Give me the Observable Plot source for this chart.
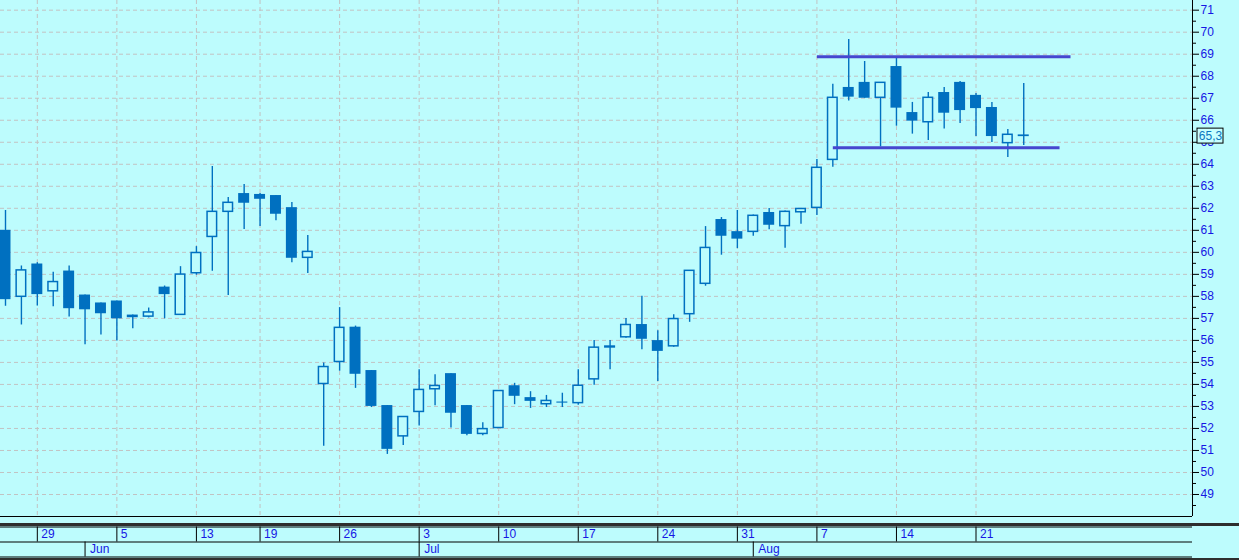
<!DOCTYPE html>
<html><head><meta charset="utf-8">
<script src="https://cdn.jsdelivr.net/npm/d3@7"></script>
<script src="https://cdn.jsdelivr.net/npm/@observablehq/plot@0.6"></script>
<style>
html,body{margin:0;padding:0;background:#bdfcfd;}
#chart{width:1239px;height:560px;overflow:hidden;background:#bdfcfd;}
#chart svg{display:block;}
#chart [aria-label="y-axis tick label"] text{fill:#1616e4;}
</style></head><body><div id="chart"></div>
<script>
// ---- data (2017 trading days) ----
const dates = [
"2017-05-25","2017-05-26","2017-05-29","2017-05-30","2017-05-31",
"2017-06-01","2017-06-02","2017-06-05","2017-06-06","2017-06-07","2017-06-08","2017-06-09",
"2017-06-13","2017-06-14","2017-06-15","2017-06-16","2017-06-19","2017-06-20","2017-06-21","2017-06-22","2017-06-23",
"2017-06-26","2017-06-27","2017-06-28","2017-06-29","2017-06-30",
"2017-07-03","2017-07-04","2017-07-05","2017-07-06","2017-07-07",
"2017-07-10","2017-07-11","2017-07-12","2017-07-13","2017-07-14",
"2017-07-17","2017-07-18","2017-07-19","2017-07-20","2017-07-21",
"2017-07-24","2017-07-25","2017-07-26","2017-07-27","2017-07-28",
"2017-07-31","2017-08-01","2017-08-02","2017-08-03","2017-08-04",
"2017-08-07","2017-08-08","2017-08-09","2017-08-10","2017-08-11",
"2017-08-14","2017-08-15","2017-08-16","2017-08-17","2017-08-18",
"2017-08-21","2017-08-22","2017-08-23","2017-08-24"];
const opens = [61.0,57.98,59.47,58.23,59.15, 58.06,57.7,57.79,57.15,57.08,58.42,57.16,
  59.05,60.7,61.84,62.67,62.63,62.58,62.03,59.75,54.02, 55.02,56.6,54.63,53.04,51.64,
  52.75,53.78,54.49,53.04,51.75, 52.02,53.94,53.4,53.1,53.2, 53.15,54.23,55.68,56.14,56.72,
  55.99,55.73,57.19,58.57,61.49, 60.94,60.93,61.81,61.19,61.82, 62.02,64.2,67.49,67.72,67.02,
  68.44,66.35,65.91,67.26,67.72, 67.13,66.58,64.96,65.29];
const highs = [61.9,59.38,59.53,59.1,59.38, 58.06,57.7,57.79,57.15,57.47,58.47,59.35,
  60.26,63.9,62.49,63.08,62.67,62.58,62.26,60.76,54.97, 57.49,56.65,54.63,53.04,52.52,
  54.67,54.44,54.49,53.04,52.26, 53.7,54.05,53.67,53.5,53.6, 54.67,55.99,55.99,57.0,58.0,
  56.44,57.17,59.16,61.17,61.58, 61.9,61.7,61.99,61.88,61.97, 64.22,67.63,69.67,68.67,67.7,
  68.81,66.81,67.26,67.49,67.76, 67.22,66.81,65.58,67.67];
const lows = [57.55,56.7,57.56,57.53,57.06, 55.8,56.24,55.97,56.53,57.02,56.98,57.16,
  58.96,59.14,58.04,61.04,61.17,61.44,59.53,59.04,51.19, 54.6,53.82,52.95,50.82,51.22,
  52.11,53.03,52.02,51.67,51.67, 52.02,53.08,52.91,52.95,52.95, 53.05,53.96,54.67,56.1,55.58,
  54.13,55.69,56.82,58.46,59.87, 60.17,60.73,61.03,60.19,61.28, 61.67,63.87,66.87,67.0,64.79,
  65.73,65.37,65.08,65.6,65.85, 65.26,64.99,64.31,64.85];
const closes = [57.85,59.18,58.08,58.65,57.44, 57.39,57.21,56.98,57.03,57.27,58.08,58.99,
  59.97,61.84,62.25,62.23,62.41,61.73,59.73,60.02,54.79, 56.57,54.46,53.0,51.05,52.52,
  53.75,53.93,52.69,51.73,51.97, 53.7,53.46,53.23,53.25,53.15, 53.94,55.67,55.72,56.7,56.05,
  55.5,56.97,59.16,60.2,60.73, 60.6,61.66,61.23,61.84,61.97, 63.84,67.02,67.05,67.0,67.7,
  66.55,65.96,67.02,66.32,66.44, 66.53,65.26,65.34,65.3];

const weekTickDates = ["2017-05-29","2017-06-05","2017-06-13","2017-06-19","2017-06-26","2017-07-03",
  "2017-07-10","2017-07-17","2017-07-24","2017-07-31","2017-08-07","2017-08-14","2017-08-21"];
const weekTickLabels = ["29","5","13","19","26","3","10","17","24","31","7","14","21"];
const monthTickDates = ["2017-06-01","2017-07-03","2017-08-01"];
const monthTickLabels = ["Jun","Jul","Aug"];
const yTicks = d3.range(49, 72);
const yMinorTicks = d3.range(48.5, 71.5, 1);

// horizontal channel lines drawn on the chart
const trendValues = [68.88, 64.75];
const trendStartDates = ["2017-08-07","2017-08-08"];
const trendEndPositions = [66.94, 66.25]; // in bar units (beyond the last bar)

// ---- build ----
const bg = "#bdfcfd";
const candleColor = "#0070c0";
const gridColor = "#c2c2c2";
const textBlue = "#1616e4";
const font = "'Liberation Sans', Arial, sans-serif";

const candles = dates.map((d, i) => ({i, date: d, open: opens[i], high: highs[i], low: lows[i], close: closes[i]}));
const upC = candles.filter(c => c.close >= c.open);
const downC = candles.filter(c => c.close < c.open);
const idx = d => dates.indexOf(d);
const weekIdx = weekTickDates.map(idx);
const monthIdx = monthTickDates.map(idx);
const trends = trendValues.map((v, k) => ({v, x1: idx(trendStartDates[k]), x2: trendEndPositions[k]}));
const last = candles[candles.length - 1];

const W = 1239, plotRight = 1192, step = 15.91;
const xDomain = [-5 / step, (plotRight - 5) / step];
const xFull = xDomain[1] + (W - plotRight) / step;

const main = Plot.plot({
  width: W, height: 517,
  marginLeft: 0, marginRight: W - plotRight, marginTop: 0, marginBottom: 1,
  style: {background: "transparent", fontFamily: font, fontSize: "12px", overflow: "visible"},
  x: {type: "linear", domain: xDomain, axis: null},
  y: {type: "linear", domain: [48, 71.44]},
  marks: [
    Plot.ruleY(yTicks, {stroke: gridColor, strokeDasharray: "4,3"}),
    Plot.ruleX(weekIdx, {stroke: gridColor, strokeDasharray: "4,3"}),
    Plot.ruleX(candles, {x: "i", y1: "low", y2: "high", stroke: candleColor, strokeWidth: 1.4}),
    Plot.rect(downC, {x1: d => d.i - 0.345, x2: d => d.i + 0.345, y1: "open", y2: "close", fill: candleColor}),
    Plot.rect(upC, {x1: d => d.i - 0.3, x2: d => d.i + 0.3, y1: "open", y2: "close", fill: bg, stroke: candleColor, strokeWidth: 1.5}),
    Plot.link(trends, {x1: "x1", x2: "x2", y1: "v", y2: "v", stroke: "#4646cf", strokeWidth: 3}),
    Plot.ruleX([xDomain[1]], {stroke: "black"}),
    Plot.ruleY([48], {stroke: "black"}),
    Plot.axisY({ticks: yTicks, anchor: "right", tickSize: 6, tickPadding: 2, label: null, stroke: "black", fill: textBlue, fontSize: 12}),
    Plot.axisY({ticks: yMinorTicks, anchor: "right", tickSize: 3, label: null, stroke: "black", tickFormat: () => ""}),
    Plot.rect([last], {x1: xDomain[1] + 5 / step, x2: xDomain[1] + 31 / step, y1: d => d.close - 0.36, y2: d => d.close + 0.32, fill: "#c8ffff", stroke: "black", strokeWidth: 1}),
    Plot.text([last], {x: xDomain[1] + 18 / step, y: "close", text: d => d.close.toFixed(1).replace(".", ","), fill: "#0a78c0", fontSize: 12})
  ]
});

const bands = Plot.plot({
  width: W, height: 43,
  marginLeft: 0, marginRight: W - plotRight, marginTop: 0, marginBottom: 0,
  style: {background: "transparent", fontFamily: font, fontSize: "12px", overflow: "visible"},
  x: {type: "linear", domain: xDomain, axis: null},
  y: {type: "linear", domain: [0, 2], range: [9.5, 39.5], axis: null},
  marks: [
    Plot.ruleY([-0.167], {x1: xDomain[0], x2: xFull, stroke: "#2e2e2e", strokeWidth: 3}),
    Plot.ruleY([2.167], {x1: xDomain[0], x2: xFull, stroke: "#2e2e2e", strokeWidth: 3}),
    Plot.ruleY([0, 1, 2], {stroke: "black"}),
    Plot.ruleX(weekIdx, {y1: 0, y2: 1, stroke: "black"}),
    Plot.ruleX(monthIdx, {y1: 1, y2: 2, stroke: "black"}),
    Plot.text(weekIdx, {x: d => d, y: 0.5, text: (d, i) => weekTickLabels[i], textAnchor: "start", dx: 4, fill: textBlue, fontSize: 12}),
    Plot.text(monthIdx, {x: d => d, y: 1.5, text: (d, i) => monthTickLabels[i], textAnchor: "start", dx: 5, fill: textBlue, fontSize: 12})
  ]
});

const root = document.getElementById("chart");
root.appendChild(main);
root.appendChild(bands);
</script>
</body></html>
